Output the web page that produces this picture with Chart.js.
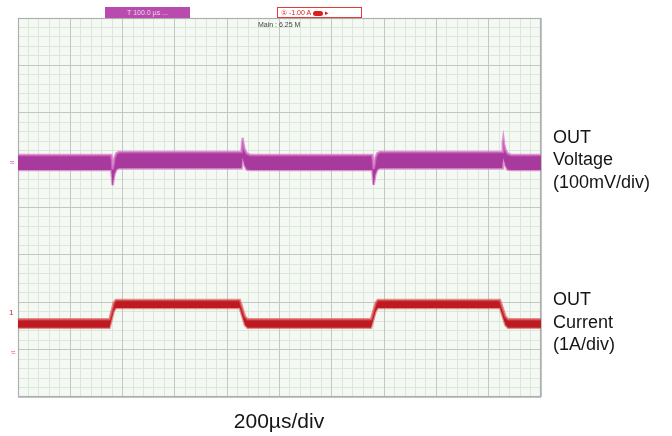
<!DOCTYPE html>
<html>
<head>
<meta charset="utf-8">
<title>OUT voltage / current transient</title>
<script src="https://cdn.jsdelivr.net/npm/chart.js@4.4.1/dist/chart.umd.min.js"></script>
<style>
  html, body { margin: 0; padding: 0; background: #ffffff; }
  #wrap { position: relative; width: 672px; height: 436px; overflow: hidden; font-family: Arial, "Liberation Sans", sans-serif; }
  #scope { position: absolute; left: 0; top: 0; }
  .side { position: absolute; left: 553px; font-size: 18px; line-height: 22.5px; color: #151515; }
  .bottom { position: absolute; left: 179px; top: 410px; width: 200px; text-align: center; font-size: 21px; line-height: 21px; color: #151515; }
  .tag { position: absolute; top: 7px; height: 11px; width: 85px; box-sizing: border-box; font-size: 7px; line-height: 11px; white-space: nowrap; overflow: hidden; }
  .tag.ch2 { left: 105px; background: #b94bae; color: #f3d6ef; text-align: center; }
  .tag.ch1 { left: 277px; background: #ffffff; border: 1px solid #e23a3a; color: #d82020; padding-left: 3px; line-height: 9px; }
  .pill { display: inline-block; width: 10px; height: 5px; border-radius: 3px; background: #d82020; vertical-align: middle; margin: 0 2px; }
  .main { position: absolute; left: 258px; top: 21px; font-size: 7px; color: #444; }
  .mark { position: absolute; font-size: 8px; line-height: 8px; }
</style>
</head>
<body>
<div id="wrap">
  <canvas id="scope" width="672" height="436"></canvas>

  <div class="tag ch2">T 100.0 µs ...</div>
  <div class="tag ch1">① -1.00 A<span class="pill"></span>▸</div>
  <div class="main">Main : 6.25 M</div>

  <div class="mark" style="left:10px; top:159px; color:#b94bae;">≈</div>
  <div class="mark" style="left:9px; top:309px; color:#c8262c;">1</div>
  <div class="mark" style="left:11px; top:349px; color:#d86060;">≈</div>

  <div class="side" style="top:125.5px;">OUT<br>Voltage<br>(100mV/div)</div>
  <div class="side" style="top:288px;">OUT<br>Current<br>(1A/div)</div>
  <div class="bottom">200µs/div</div>
</div>

<script>
// screen grid: 10 x 8 divisions, 5 minor steps per division
const usPerDiv = 200;
const divsX = 10;
const divsY = 8;
const minorPerDiv = 5;

// OUT voltage trace (100mV/div): time in µs, upper and lower edge of the noisy band in divisions
const voltTime = [0, 357, 360, 362, 365, 369, 376, 386, 855, 857, 859, 862, 867, 875, 888,
  1355, 1358, 1360, 1363, 1367, 1374, 1384, 1852, 1854, 1856, 1859, 1864, 1872, 1885, 2000];
const voltHigh = [5.11, 5.11, 4.95, 4.80, 4.90, 5.05, 5.14, 5.17, 5.17, 5.38, 5.47, 5.34, 5.22, 5.14, 5.11,
  5.11, 4.95, 4.81, 4.90, 5.05, 5.14, 5.17, 5.17, 5.38, 5.46, 5.34, 5.22, 5.14, 5.11, 5.11];
const voltLow = [4.79, 4.79, 4.58, 4.47, 4.58, 4.70, 4.80, 4.83, 4.83, 4.95, 5.05, 4.98, 4.88, 4.80, 4.79,
  4.79, 4.58, 4.48, 4.58, 4.70, 4.80, 4.83, 4.83, 4.95, 5.04, 4.98, 4.88, 4.80, 4.79, 4.79];

// OUT current trace (1A/div): time in µs, upper and lower edge of the band in divisions
const currTime = [0, 350, 366, 374, 848, 868, 878, 1350, 1368, 1376, 1843, 1864, 1874, 2000];
const currHigh = [1.64, 1.64, 1.99, 2.05, 2.05, 1.70, 1.64, 1.64, 1.99, 2.05, 2.05, 1.70, 1.64, 1.64];
const currLow = [1.46, 1.46, 1.81, 1.88, 1.88, 1.52, 1.46, 1.46, 1.81, 1.88, 1.88, 1.52, 1.46, 1.46];

const toPoints = (times, values) => times.map((t, i) => ({ x: t, y: values[i] }));

const plotBackground = {
  id: 'plotBackground',
  beforeDraw(chart) {
    const { ctx, chartArea: a } = chart;
    ctx.save();
    ctx.fillStyle = '#f5f9f4';
    ctx.fillRect(a.left, a.top, a.right - a.left, a.bottom - a.top);
    ctx.restore();
  },
  beforeDatasetsDraw(chart) {
    const { ctx, chartArea: a } = chart;
    ctx.save();
    ctx.strokeStyle = '#adb0ad';
    ctx.lineWidth = 1.2;
    ctx.strokeRect(a.left + 0.5, a.top + 0.5, a.right - a.left - 1, a.bottom - a.top - 1);
    ctx.restore();
  },
};

const hiddenTicks = { display: false };

// a trace is the area between its upper edge (filled down to the next dataset) and its lower edge
const edge = (label, times, values, edgeColor, fillColor, fill) => ({
  label,
  data: toPoints(times, values),
  xAxisID: 'x',
  yAxisID: 'y',
  borderColor: edgeColor,
  borderWidth: 2.5,
  backgroundColor: fillColor,
  fill,
  pointRadius: 0,
});

new Chart(document.getElementById('scope').getContext('2d'), {
  type: 'line',
  data: {
    datasets: [
      edge('OUT Voltage high', voltTime, voltHigh, 'rgba(214, 112, 200, 0.75)', '#a93a9d', '+1'),
      edge('OUT Voltage low', voltTime, voltLow, 'rgba(214, 112, 200, 0.75)', 'transparent', false),
      edge('OUT Current high', currTime, currHigh, 'rgba(222, 96, 96, 0.7)', '#bd1a22', '+1'),
      edge('OUT Current low', currTime, currLow, 'rgba(222, 96, 96, 0.7)', 'transparent', false),
    ],
  },
  options: {
    responsive: false,
    animation: false,
    events: [],
    layout: { padding: { left: 18, top: 18, right: 131, bottom: 39 } },
    plugins: {
      legend: { display: false },
      tooltip: { enabled: false },
      filler: { drawTime: 'beforeDatasetDraw' },
    },
    scales: {
      x: {
        type: 'linear',
        min: 0,
        max: usPerDiv * divsX,
        ticks: { ...hiddenTicks, stepSize: usPerDiv },
        grid: { color: '#c3c7c3', drawTicks: false, z: -1 },
        border: { display: false },
      },
      y: {
        type: 'linear',
        min: 0,
        max: divsY,
        ticks: { ...hiddenTicks, stepSize: 1 },
        grid: { color: '#c3c7c3', drawTicks: false, z: -1 },
        border: { display: false },
      },
      xMinor: {
        axis: 'x',
        type: 'linear',
        min: 0,
        max: usPerDiv * divsX,
        ticks: { ...hiddenTicks, stepSize: usPerDiv / minorPerDiv },
        grid: { color: '#dde6db', drawTicks: false, z: -2 },
        border: { display: false },
      },
      yMinor: {
        axis: 'y',
        type: 'linear',
        position: 'left',
        min: 0,
        max: divsY * minorPerDiv,
        ticks: { ...hiddenTicks, stepSize: 1 },
        grid: { color: '#dde6db', drawTicks: false, z: -2 },
        border: { display: false },
      },
    },
  },
  plugins: [plotBackground],
});
</script>
</body>
</html>
